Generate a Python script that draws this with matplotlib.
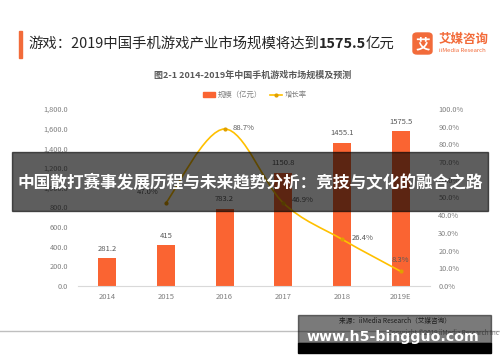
import matplotlib
matplotlib.use("Agg")
import matplotlib.pyplot as plt
from matplotlib.patches import Rectangle, FancyBboxPatch, Patch, PathPatch
from matplotlib.path import Path
from matplotlib.lines import Line2D
import numpy as np

plt.rcParams['font.family'] = ['Noto Sans CJK SC', 'DejaVu Sans']

years = ['2014', '2015', '2016', '2017', '2018', '2019E']
scale = [281.2, 415, 783.2, 1150.8, 1455.1, 1575.5]
scale_labels = ['281.2', '415', '783.2', '1150.8', '1455.1', '1575.5']
growth = [None, 47.0, 88.7, 46.9, 26.4, 8.3]
left_ticks = [0, 200, 400, 600, 800, 1000, 1200, 1400, 1600, 1800]
right_ticks = [0, 10, 20, 30, 40, 50, 60, 70, 80, 90, 100]

W, H = 500, 362
fig = plt.figure(figsize=(5, 3.62), dpi=100)

def fx(x):
    return x / W

def fy(y):
    return 1 - y / H

ax = fig.add_axes([fx(78), fy(286), fx(430) - fx(78), fy(109) - fy(286)])
ax2 = ax.twinx()

BAR = '#FA6432'
LINE = '#FFC000'
GRAY = '#7f7f7f'

x = np.arange(len(years))
ax.bar(x, scale, width=0.31, color=BAR, zorder=2)
ax.set_xlim(-0.5, len(years) - 0.5)
ax.set_ylim(0, 1800)
ax.set_yticks(left_ticks)
ax.set_yticklabels([f'{v:,.1f}' for v in left_ticks], fontsize=5.3, color=GRAY)
ax.set_xticks(x)
ax.set_xticklabels(years, fontsize=5.5, color=GRAY)
ax.tick_params(length=0, pad=7)
ax.tick_params(axis='x', pad=5)
for s in ['top', 'left', 'right']:
    ax.spines[s].set_visible(False)
ax.spines['bottom'].set_color('#d9d9d9')
ax.spines['bottom'].set_linewidth(0.8)

for xi, v, lab in zip(x, scale, scale_labels):
    ax.annotate(lab, (xi, v), xytext=(0, 4), textcoords='offset points',
                ha='center', va='bottom', fontsize=5.5, color='#595959')

ax2.set_ylim(0, 100)
ax2.set_yticks(right_ticks)
ax2.set_yticklabels([f'{v:.1f}%' for v in right_ticks], fontsize=5.3, color=GRAY)
ax2.tick_params(length=0, pad=6)
for s in ['top', 'left', 'right', 'bottom']:
    ax2.spines[s].set_visible(False)

# smoothed line through growth points (Catmull-Rom -> cubic Bezier)
gx = [xi for xi, g in zip(x, growth) if g is not None]
gy = [g for g in growth if g is not None]
pts = list(zip(gx, gy))
verts = [pts[0]]
codes = [Path.MOVETO]
n = len(pts)
for i in range(n - 1):
    p0 = pts[i - 1] if i > 0 else pts[i]
    p1 = pts[i]
    p2 = pts[i + 1]
    p3 = pts[i + 2] if i + 2 < n else pts[i + 1]
    c1 = (p1[0] + (p2[0] - p0[0]) / 6, p1[1] + (p2[1] - p0[1]) / 6)
    c2 = (p2[0] - (p3[0] - p1[0]) / 6, p2[1] - (p3[1] - p1[1]) / 6)
    verts += [c1, c2, p2]
    codes += [Path.CURVE4] * 3
ax2.add_patch(PathPatch(Path(verts, codes), fill=False, edgecolor=LINE, lw=1.2, zorder=3))
ax2.plot(gx, gy, 'o', color='#E0A000', ms=2, zorder=4)

offsets = {1: (-5, 5, 'right', 'bottom'), 2: (6, 1, 'left', 'center'),
           3: (6, 2, 'left', 'center'), 4: (7, 1, 'left', 'center'),
           5: (0, 5, 'center', 'bottom')}
for xi, g in zip(x, growth):
    if g is None:
        continue
    dx, dy, ha, va = offsets[xi]
    ax2.annotate(f'{g:.1f}%', (xi, g), xytext=(dx, dy), textcoords='offset points',
                 ha=ha, va=va, fontsize=5.5, color='#595959')

# legend
handles = [Patch(color=BAR, label='规模（亿元）'),
           Line2D([0], [0], color=LINE, lw=1.2, marker='o', ms=2, mfc='#E0A000', mec='#E0A000', label='增长率')]
leg = fig.legend(handles=handles, loc='center', bbox_to_anchor=(fx(255), fy(95)), ncol=2,
                 frameon=False, fontsize=5.3, handlelength=1.6, handleheight=0.6,
                 columnspacing=1.2, handletextpad=0.3)
for t in leg.get_texts():
    t.set_color(GRAY)

# subtitle
fig.text(fx(253), fy(75), '图2-1 2014-2019年中国手机游戏市场规模及预测', ha='center', va='center',
         fontsize=6.5, color='#595959', fontweight='bold')

# header
fig.patches.append(Rectangle((fx(19), fy(58)), fx(3), fy(31) - fy(58), transform=fig.transFigure,
                             color='#F26B3A', zorder=5))
fig.canvas.draw()
r = fig.canvas.get_renderer()
cur = 28
for txt, wt in [('游戏：2019中国手机游戏产业市场规模将达到', 'normal'), ('1575.5', 'bold'), ('亿元', 'normal')]:
    t = fig.text(fx(cur), fy(44), txt, ha='left', va='center', fontsize=10.4, color='#262626', fontweight=wt)
    bb = t.get_window_extent(renderer=r)
    cur += bb.width

# logo
fig.patches.append(FancyBboxPatch((fx(413), fy(54)), fx(19), fy(33) - fy(54),
                                  boxstyle='round,pad=0,rounding_size=0.008',
                                  transform=fig.transFigure, color='#F26B3A', zorder=5))
fig.text(fx(422.5), fy(43.5), '艾', ha='center', va='center', fontsize=10.5, color='white',
         fontweight='bold', zorder=6)
fig.text(fx(439), fy(39), '艾媒咨询', ha='left', va='center', fontsize=9, color='#F26B3A', fontweight='bold')
fig.text(fx(439), fy(50.5), 'iiMedia Research', ha='left', va='center', fontsize=4.3, color='#F26B3A')

# banner
fig.patches.append(Rectangle((fx(12), fy(211)), fx(488) - fx(12), fy(152) - fy(211),
                             transform=fig.transFigure, color='black', alpha=0.63, zorder=10))
fig.text(fx(250), fy(183), '中国散打赛事发展历程与未来趋势分析：竞技与文化的融合之路', ha='center', va='center',
         fontsize=12, color='white', fontweight='bold', zorder=11)

# footer
fig.lines.append(Line2D([0, 1], [fy(331), fy(331)], transform=fig.transFigure, color='#bfbfbf', lw=1.0))
fig.text(fx(395), fy(321), '来源：iiMedia Research（艾媒咨询）', ha='center', va='center', fontsize=4.8, color='#404040')
fig.text(fx(499), fy(333), 'Copyright ©2019 iiMedia Research Inc', ha='right', va='center', fontsize=4.5, color=GRAY)
fig.patches.append(Rectangle((fx(298), fy(343)), fx(491) - fx(298), fy(315) - fy(343),
                             transform=fig.transFigure, color='black', alpha=0.52, zorder=10))
fig.patches.append(Rectangle((fx(298), fy(353)), fx(491) - fx(298), fy(343) - fy(353),
                             transform=fig.transFigure, color='black', zorder=10))
fig.text(fx(393), fy(337.5), 'www.h5-bingguo.com', ha='center', va='center', fontsize=10.2,
         color='white', fontweight='bold', family='DejaVu Sans', zorder=11)

fig.savefig('out.png', dpi=100)
